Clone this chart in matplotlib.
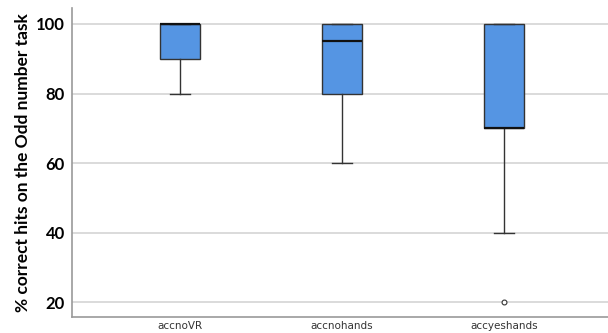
import matplotlib.pyplot as plt

# summary stats per condition (percent correct)
conditions = ["accnoVR", "accnohands", "accyeshands"]
whisker_low = [80, 60, 40]
q1 = [90, 80, 70]
medians = [100, 95, 70]
q3 = [100, 100, 100]
whisker_high = [100, 100, 100]
outliers = [[], [], [20]]

stats = []
for i, name in enumerate(conditions):
    stats.append({"label": name, "whislo": whisker_low[i], "q1": q1[i],
                  "med": medians[i], "q3": q3[i], "whishi": whisker_high[i],
                  "fliers": outliers[i]})

fig = plt.figure(figsize=(6.08, 3.33), dpi=100)
ax = fig.add_axes([0.118, 0.048, 0.882, 0.928])

ax.bxp(stats, positions=range(len(conditions)), widths=0.25, patch_artist=True,
       boxprops=dict(facecolor="#5595e3", edgecolor="#333333", linewidth=1.0),
       medianprops=dict(color="#111111", linewidth=1.6),
       whiskerprops=dict(color="#333333", linewidth=1.0),
       capprops=dict(color="#333333", linewidth=1.0),
       capwidths=0.12,
       flierprops=dict(marker="o", markersize=3.5, markerfacecolor="white",
                       markeredgecolor="#333333", markeredgewidth=0.8),
       zorder=3)

ax.set_xlim(-0.667, 2.64)
ax.set_ylim(15.7, 104.6)
ax.set_yticks([20, 40, 60, 80, 100])
ax.yaxis.grid(True, color="#d4d4d4", linewidth=1.2, zorder=0)
ax.set_axisbelow(True)

for s in ["top", "right"]:
    ax.spines[s].set_visible(False)
ax.spines["left"].set_color("#999999")
ax.spines["bottom"].set_color("#999999")
ax.spines["left"].set_linewidth(1.2)
ax.spines["bottom"].set_linewidth(1.2)

ax.tick_params(axis="y", length=0, pad=5, labelsize=12)
ax.tick_params(axis="x", length=0, pad=3, labelsize=7.5, labelcolor="#333333")
for t in ax.get_yticklabels():
    t.set_fontweight("bold")
    t.set_family("Lato")
ax.set_xticks(range(len(conditions)))
ax.set_xticklabels(conditions)

ax.set_ylabel("% correct hits on the Odd number task", fontsize=12.5,
              fontweight="bold", family="Lato")
ax.yaxis.set_label_coords(-0.076, 0.5)

fig.savefig("out.png", dpi=100)
